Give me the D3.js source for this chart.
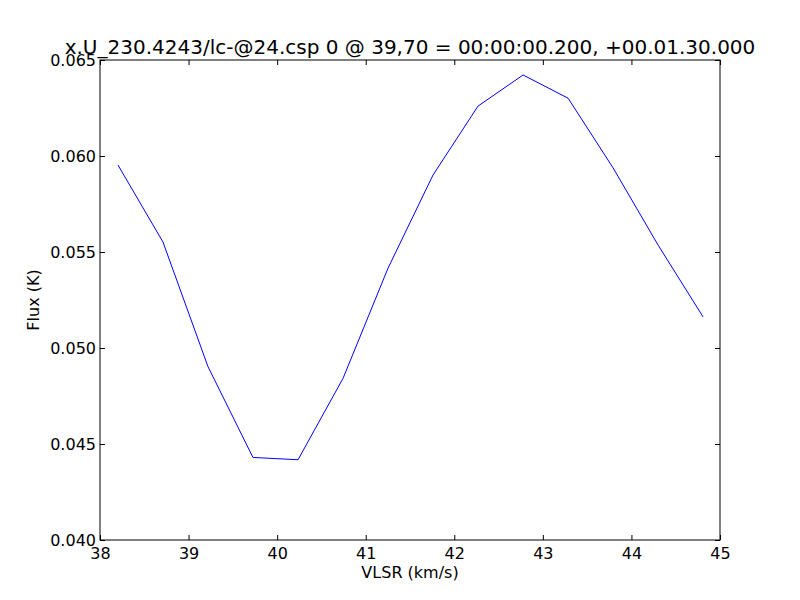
<!DOCTYPE html>
<html><head><meta charset="utf-8">
<script src="https://cdn.jsdelivr.net/npm/d3@7"></script>
<style>body{margin:0;background:#fff}text{font-family:"DejaVu Sans",sans-serif}</style>
</head><body>
<svg id="c" width="800" height="600"></svg>
<script>
const velocity = [38.203, 38.711, 39.219, 39.727, 40.236, 40.744, 41.252, 41.760, 42.268, 42.777, 43.285, 43.793, 44.301, 44.809];
const flux = [0.05953, 0.05552, 0.04903, 0.04430, 0.04418, 0.04842, 0.05416, 0.05901, 0.06260, 0.06422, 0.06301, 0.05938, 0.05536, 0.05162];
const xTicks = [38, 39, 40, 41, 42, 43, 44, 45];
const yTicks = [0.040, 0.045, 0.050, 0.055, 0.060, 0.065];
const titleText = "x.U_230.4243/lc-@24.csp 0 @ 39,70 = 00:00:00.200, +00.01.30.000";

(function () {
const svg = d3.select("#c");
const L = 100, R = 720, T = 60, B = 540;
const x = d3.scaleLinear().domain([38, 45]).range([L, R]);
const y = d3.scaleLinear().domain([0.040, 0.065]).range([B, T]);

const fs = 16;
const gBottom = svg.append("g").attr("transform", `translate(0,${B})`)
  .call(d3.axisBottom(x).tickValues(xTicks).tickFormat(d3.format("d")).tickSizeInner(-5).tickSizeOuter(0).tickPadding(8));
const gTop = svg.append("g").attr("transform", `translate(0,${T})`)
  .call(d3.axisTop(x).tickValues(xTicks).tickFormat("").tickSizeInner(-5).tickSizeOuter(0));
const gLeft = svg.append("g").attr("transform", `translate(${L},0)`)
  .call(d3.axisLeft(y).tickValues(yTicks).tickFormat(d3.format(".3f")).tickSizeInner(-5).tickSizeOuter(0).tickPadding(4));
const gRight = svg.append("g").attr("transform", `translate(${R},0)`)
  .call(d3.axisRight(y).tickValues(yTicks).tickFormat("").tickSizeInner(-5).tickSizeOuter(0));
[gBottom, gTop, gLeft, gRight].forEach(g => {
  g.select(".domain").remove();
  g.selectAll("line").attr("stroke", "#000");
  g.selectAll("text").attr("font-size", fs).attr("font-family", "DejaVu Sans").attr("fill", "#000");
});
gBottom.selectAll("text").attr("dy", "0.71em");

svg.append("rect").attr("x", L).attr("y", T).attr("width", R - L).attr("height", B - T)
  .attr("fill", "none").attr("stroke", "#000").attr("stroke-width", 1);

const line = d3.line().x((d, i) => x(velocity[i])).y(d => y(d));
svg.append("path").datum(flux).attr("d", line).attr("fill", "none").attr("stroke", "#0000ff").attr("stroke-width", 1);

svg.append("text").attr("x", (L + R) / 2).attr("y", 54).attr("text-anchor", "middle")
  .attr("font-size", 20).text(titleText);
svg.append("text").attr("x", (L + R) / 2).attr("y", 578).attr("text-anchor", "middle")
  .attr("font-size", fs).text("VLSR (km/s)");
svg.append("text").attr("transform", `translate(39,${(T + B) / 2}) rotate(-90)`).attr("text-anchor", "middle")
  .attr("font-size", fs).text("Flux (K)");
})();
</script>
</body></html>
